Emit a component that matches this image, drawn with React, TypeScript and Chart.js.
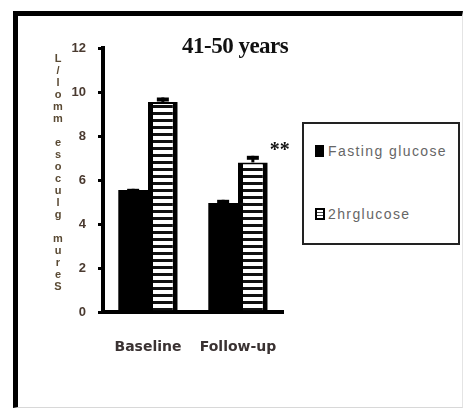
import React, { useEffect, useRef } from "react";
import { Chart, registerables } from "chart.js";

Chart.register(...registerables);

const categories = ["Baseline", "Follow-up"];
const seriesLabels = ["Fasting glucose", "2hrglucose"];
const fastingValues = [5.55, 4.95];
const fastingErrors = [0.05, 0.15];
const twoHrValues = [9.55, 6.8];
const twoHrErrors = [0.2, 0.3];
const fastingMarks = ["", "*"];
const twoHrMarks = ["", "**"];
const yMin = 0;
const yMax = 12;
const yStep = 2;
const chartTitle = "41-50 years";
const yTitle = "Serum glucose mmol/L";

function makeStripes(ctx: CanvasRenderingContext2D) {
  const c = document.createElement("canvas");
  c.width = 4;
  c.height = 7;
  const p = c.getContext("2d")!;
  p.fillStyle = "#ffffff";
  p.fillRect(0, 0, 4, 7);
  p.fillStyle = "#111111";
  p.fillRect(0, 0, 4, 3);
  return ctx.createPattern(c, "repeat")!;
}

const errorBarPlugin = {
  id: "errorBars",
  afterDatasetsDraw(chart: any) {
    const ctx = chart.ctx;
    const y = chart.scales.y;
    const errs = [fastingErrors, twoHrErrors];
    const vals = [fastingValues, twoHrValues];
    const marks = [fastingMarks, twoHrMarks];
    ctx.save();
    for (let d = 0; d < 2; d++) {
      const meta = chart.getDatasetMeta(d);
      meta.data.forEach((el: any, i: number) => {
        const top = y.getPixelForValue(vals[d][i] + errs[d][i]);
        ctx.strokeStyle = "#000";
        ctx.lineWidth = 3;
        ctx.beginPath();
        ctx.moveTo(el.x, el.y);
        ctx.lineTo(el.x, top);
        ctx.stroke();
        ctx.fillStyle = "#000";
        ctx.fillRect(el.x - 6, top, 12, 4);
        const m = marks[d][i];
        if (m) {
          ctx.fillStyle = "#111";
          ctx.textAlign = "center";
          ctx.textBaseline = "middle";
          if (m.length > 1) {
            ctx.font = "bold 20px 'Liberation Serif'";
            ctx.fillText(m, el.x + 27, top - 5);
          } else {
            ctx.font = "bold 11px 'Liberation Serif'";
            ctx.fillText(m, el.x + 19, top + 6);
          }
        }
      });
    }
    ctx.restore();
  },
};

export default function App() {
  const ref = useRef<HTMLCanvasElement>(null);
  useEffect(() => {
    const canvas = ref.current!;
    const ctx = canvas.getContext("2d")!;
    const stripes = makeStripes(ctx);
    const chart = new Chart(ctx, {
      type: "bar",
      data: {
        labels: categories,
        datasets: [
          {
            label: seriesLabels[0],
            data: fastingValues,
            backgroundColor: "#000000",
            borderWidth: 0,
            categoryPercentage: 0.66,
            barPercentage: 1.0,
          },
          {
            label: seriesLabels[1],
            data: twoHrValues,
            backgroundColor: stripes,
            borderColor: "#000000",
            borderWidth: { left: 5, right: 5, top: 2, bottom: 0 },
            borderSkipped: "bottom",
            categoryPercentage: 0.66,
            barPercentage: 1.0,
          },
        ],
      },
      options: {
        responsive: false,
        animation: false,
        layout: { padding: { left: 60, right: 180, top: 48, bottom: 47 } },
        plugins: {
          legend: { display: false },
          title: { display: false },
          tooltip: { enabled: false },
        },
        scales: {
          x: {
            afterFit: (s: any) => {
              s.height = 50;
            },
            grid: { display: false },
            border: { display: true, color: "#000", width: 4 },
            ticks: {
              color: "#3a3232",
              padding: 19,
              font: { family: "'DejaVu Sans'", size: 14, weight: "bold" },
            },
          },
          y: {
            min: yMin,
            max: yMax,
            afterFit: (s: any) => {
              s.width = 43;
            },
            grid: {
              display: true,
              drawOnChartArea: false,
              drawTicks: true,
              tickLength: 5,
              color: "#000",
              lineWidth: 3,
            },
            border: { display: true, color: "#000", width: 4 },
            ticks: {
              stepSize: yStep,
              color: "#4a3a30",
              padding: 12,
              font: { family: "'Liberation Sans'", size: 13, weight: "bold" },
            },
          },
        },
      },
      plugins: [errorBarPlugin],
    });
    return () => chart.destroy();
  }, []);

  return (
    <div style={{ position: "absolute", left: 0, top: 0, width: 463, height: 409, background: "#fff", overflow: "hidden" }}>
      <div
        style={{
          position: "absolute",
          left: 13,
          top: 11,
          width: 450,
          height: 397,
          boxSizing: "border-box",
          borderTop: "5px solid #000",
          borderLeft: "5px solid #000",
          borderBottom: "1px solid #d8d8d8",
          borderRight: "1px solid #e4e4e4",
        }}
      />
      <canvas ref={ref} width={463} height={409} style={{ position: "absolute", left: 0, top: 0, width: 463, height: 409 }} />
      <div
        style={{
          position: "absolute",
          left: 182,
          top: 34,
          font: "bold 23px 'Liberation Serif'",
          lineHeight: "23px",
          letterSpacing: "-0.5px",
          color: "#111",
          whiteSpace: "nowrap",
        }}
      >
        {chartTitle}
      </div>
      <div
        style={{
          position: "absolute",
          left: 52,
          top: 40,
          height: 252,
          writingMode: "vertical-lr",
          textOrientation: "upright",
          direction: "rtl",
          unicodeBidi: "bidi-override",
          font: "bold 11px 'Liberation Sans'",
          letterSpacing: "0px",
          color: "#5a4a34",
          whiteSpace: "nowrap",
        }}
      >
        {yTitle}
      </div>
      <div
        style={{
          position: "absolute",
          left: 302,
          top: 122,
          width: 158,
          height: 123,
          boxSizing: "border-box",
          border: "2px solid #222",
          background: "#fff",
        }}
      >
        <div style={{ position: "absolute", left: 11, top: 21, width: 9, height: 12, background: "#000" }} />
        <div
          style={{
            position: "absolute",
            left: 24,
            top: 17,
            font: "14px 'Liberation Sans'",
            lineHeight: "20px",
            letterSpacing: "1.4px",
            color: "#666",
            whiteSpace: "nowrap",
          }}
        >
          {seriesLabels[0]}
        </div>
        <div
          style={{
            position: "absolute",
            left: 11,
            top: 84,
            width: 10,
            height: 12,
            boxSizing: "border-box",
            border: "2px solid #000",
            background: "repeating-linear-gradient(#fff 0px, #fff 2px, #444 2px, #444 3px)",
          }}
        />
        <div
          style={{
            position: "absolute",
            left: 24,
            top: 80,
            font: "14px 'Liberation Sans'",
            lineHeight: "20px",
            letterSpacing: "1.4px",
            color: "#666",
            whiteSpace: "nowrap",
          }}
        >
          {seriesLabels[1]}
        </div>
      </div>
    </div>
  );
}
